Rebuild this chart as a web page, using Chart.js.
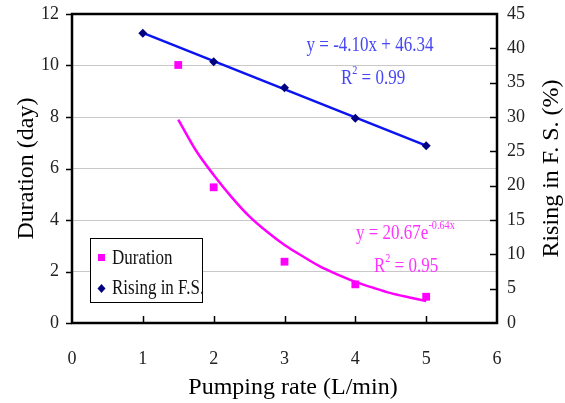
<!DOCTYPE html>
<html>
<head>
<meta charset="utf-8">
<script src="https://cdn.jsdelivr.net/npm/chart.js@4/dist/chart.umd.min.js"></script>
<style>
  body { margin: 0; background: #fff; }
</style>
</head>
<body>
<canvas id="myChart" width="565" height="403"></canvas>
<script>
// measured points
const durationX = [1.5, 2, 3, 4, 5];
const durationY = [10.02, 5.27, 2.38, 1.5, 1.02];
const risingX = [1, 2, 3, 4, 5];
const risingY = [42.2, 38.05, 34.27, 29.8, 25.8];

// trend lines
const durTrendX = [1.5, 1.75, 2, 2.25, 2.5, 2.75, 3, 3.25, 3.5, 3.75, 4, 4.25, 4.5, 4.75, 5];
const durTrendY = [7.9, 6.7, 5.75, 4.9, 4.15, 3.55, 3.03, 2.6, 2.2, 1.88, 1.6, 1.37, 1.16, 1.0, 0.85];
const riseTrendX = [1, 5];
const riseTrendY = [42.24, 25.84];

const xTicks = [0, 1, 2, 3, 4, 5, 6];
const leftTicks = [0, 2, 4, 6, 8, 10, 12];
const rightTicks = [0, 5, 10, 15, 20, 25, 30, 35, 40, 45];

const SERIF = "'Liberation Serif', 'Times New Roman', serif";

function pts(xs, ys) {
  return xs.map((x, i) => ({ x: x, y: ys[i] }));
}

// squeeze text a bit, the original font is narrow
function drawText(ctx, txt, x, y, size, color, align) {
  ctx.save();
  ctx.font = size + "px " + SERIF;
  ctx.fillStyle = color;
  ctx.textBaseline = "middle";
  ctx.textAlign = align || "left";
  ctx.translate(x, y);
  ctx.scale(0.85, 1);
  ctx.fillText(txt, 0, 0);
  let w = ctx.measureText(txt).width * 0.85;
  ctx.restore();
  return w;
}

function fixVertical(s, w) {
  s.width = w;
  s.paddingTop = 0;
  s.paddingBottom = 0;
}

const extras = {
  id: "extras",
  afterDraw(chart) {
    const ctx = chart.ctx;
    const a = chart.chartArea;
    const xs = chart.scales.x, yl = chart.scales.y, yr = chart.scales.y2;
    ctx.save();
    ctx.strokeStyle = "#000";
    ctx.lineWidth = 1.5;
    // ticks: x and right inward, left outward
    xTicks.forEach(v => {
      if (v === 0 || v === 6) return;
      let p = Math.round(xs.getPixelForValue(v)) + 0.5;
      ctx.beginPath(); ctx.moveTo(p, a.bottom); ctx.lineTo(p, a.bottom - 7); ctx.stroke();
    });
    rightTicks.forEach(v => {
      if (v === 0 || v === 45) return;
      let p = Math.round(yr.getPixelForValue(v)) + 0.5;
      ctx.beginPath(); ctx.moveTo(a.right, p); ctx.lineTo(a.right - 7, p); ctx.stroke();
    });
    leftTicks.forEach(v => {
      let p = Math.round(yl.getPixelForValue(v)) + 0.5;
      ctx.beginPath(); ctx.moveTo(a.left, p); ctx.lineTo(a.left - 6, p); ctx.stroke();
    });
    // plot frame
    ctx.lineWidth = 2.5;
    ctx.strokeRect(a.left, a.top, a.right - a.left, a.bottom - a.top);
    ctx.restore();

    // axis titles not placed by chart.js
    ctx.save();
    ctx.font = "24px " + SERIF;
    ctx.fillStyle = "#000";
    ctx.textAlign = "center";
    ctx.textBaseline = "middle";
    ctx.fillText("Pumping rate (L/min)", 293, 388);
    ctx.translate(552, (a.top + a.bottom) / 2);
    ctx.rotate(-Math.PI / 2);
    ctx.fillText("Rising in F. S. (%)", 0, 0);
    ctx.restore();

    // trend equations
    const blue = "#4646f5", pink = "#ff33ff";
    drawText(ctx, "y = -4.10x + 46.34", 370, 46, 20, blue, "center");
    let w = drawText(ctx, "R", 341, 79, 20, blue);
    drawText(ctx, "2", 341 + w, 71, 12, blue);
    drawText(ctx, " = 0.99", 341 + w + 5, 79, 20, blue);

    w = drawText(ctx, "y = 20.67e", 356, 234, 20, pink);
    drawText(ctx, "-0.64x", 356 + w, 226, 12, pink);
    w = drawText(ctx, "R", 374, 267, 20, pink);
    drawText(ctx, "2", 374 + w, 259, 12, pink);
    drawText(ctx, " = 0.95", 374 + w + 5, 267, 20, pink);

    // legend box
    ctx.save();
    ctx.fillStyle = "#fff";
    ctx.fillRect(90, 238, 112, 64);
    ctx.strokeStyle = "#000";
    ctx.lineWidth = 1;
    ctx.strokeRect(90.5, 238.5, 112, 64);
    ctx.fillStyle = "#ff00ff";
    ctx.fillRect(98, 254, 7, 7);
    ctx.fillStyle = "#000080";
    ctx.beginPath();
    ctx.moveTo(101.5, 284); ctx.lineTo(105.5, 288.5); ctx.lineTo(101.5, 293); ctx.lineTo(97.5, 288.5);
    ctx.closePath(); ctx.fill();
    ctx.restore();
    drawText(ctx, "Duration", 112, 259, 20, "#111");
    drawText(ctx, "Rising in F.S.", 112, 289, 20, "#111");
  }
};

const ctx = document.getElementById("myChart").getContext("2d");
const chart = new Chart(ctx, {
  type: "scatter",
  data: {
    datasets: [
      {
        label: "Duration",
        data: pts(durationX, durationY),
        yAxisID: "y",
        pointStyle: "rect",
        pointRadius: 5.5,
        backgroundColor: "#ff00ff",
        borderColor: "#ff00ff",
        borderWidth: 0,
        order: 0
      },
      {
        label: "Rising in F.S.",
        data: pts(risingX, risingY),
        yAxisID: "y2",
        pointStyle: "rectRot",
        pointRadius: 4.5,
        backgroundColor: "#000080",
        borderColor: "#000080",
        borderWidth: 0,
        order: 0
      },
      {
        label: "dur trend",
        data: pts(durTrendX, durTrendY),
        yAxisID: "y",
        showLine: true,
        pointRadius: 0,
        borderColor: "#ff00ff",
        borderWidth: 2.5,
        cubicInterpolationMode: "monotone",
        order: 1
      },
      {
        label: "rise trend",
        data: pts(riseTrendX, riseTrendY),
        yAxisID: "y2",
        showLine: true,
        pointRadius: 0,
        borderColor: "#0a14f0",
        borderWidth: 2.5,
        order: 1
      }
    ]
  },
  options: {
    responsive: false,
    animation: false,
    layout: { padding: { top: 14, left: 0, right: 0, bottom: 0 } },
    plugins: { legend: { display: false }, tooltip: { enabled: false } },
    scales: {
      x: {
        type: "linear",
        min: 0, max: 6,
        afterFit(s) { s.height = 80; s.paddingLeft = 0; s.paddingRight = 0; },
        afterBuildTicks(s) { s.ticks = xTicks.map(v => ({ value: v })); },
        grid: { display: false, drawTicks: false },
        border: { display: false },
        ticks: { padding: 25, color: "#222", font: { family: SERIF, size: 18 } }
      },
      y: {
        position: "left",
        min: 0, max: 12,
        afterFit(s) { fixVertical(s, 72); },
        afterBuildTicks(s) { s.ticks = leftTicks.map(v => ({ value: v })); },
        grid: { color: "#c8c8c8", lineWidth: 1, drawTicks: false },
        border: { display: false },
        ticks: { padding: 13, color: "#222", font: { family: SERIF, size: 18 } },
        title: { display: true, text: "Duration (day)", color: "#000", font: { family: SERIF, size: 24 }, padding: { top: 12, bottom: 0 } }
      },
      y2: {
        position: "right",
        min: 0, max: 45,
        afterFit(s) { fixVertical(s, 68); },
        afterBuildTicks(s) { s.ticks = rightTicks.map(v => ({ value: v })); },
        grid: { display: false, drawTicks: false },
        border: { display: false },
        ticks: { padding: 10, color: "#222", font: { family: SERIF, size: 18 } }
      }
    }
  },
  plugins: [extras]
});
</script>
</body>
</html>
